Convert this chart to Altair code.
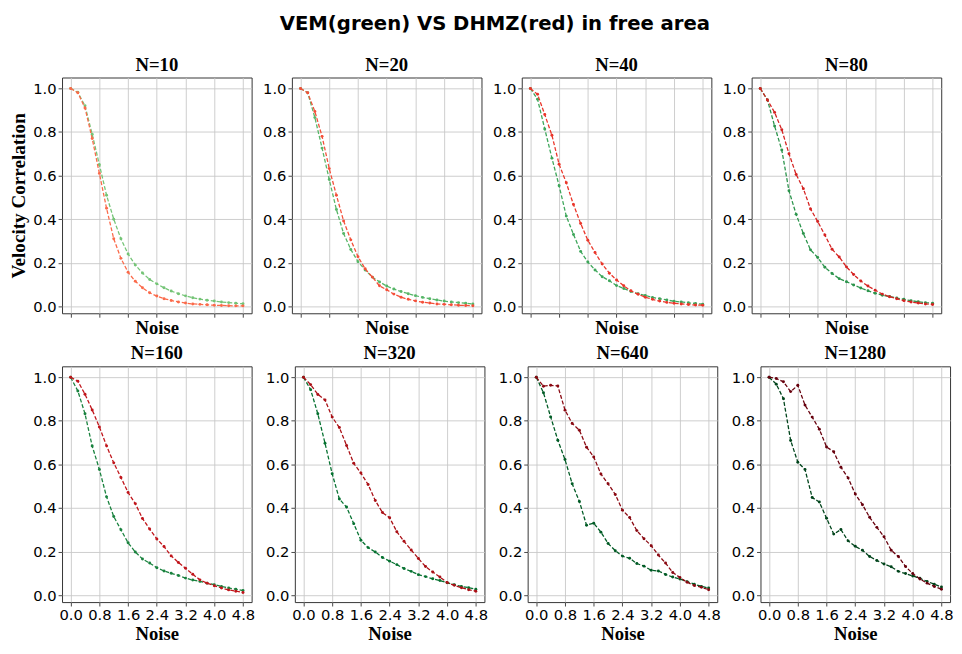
import altair as alt
import pandas as pd

noise = [0.0, 0.2, 0.4, 0.6, 0.8, 1.0, 1.2, 1.4, 1.6, 1.8, 2.0, 2.2, 2.4,
         2.6, 2.8, 3.0, 3.2, 3.4, 3.6, 3.8, 4.0, 4.2, 4.4, 4.6, 4.8]
x_ticks = [0.0, 0.8, 1.6, 2.4, 3.2, 4.0, 4.8]
y_ticks = [0.0, 0.2, 0.4, 0.6, 0.8, 1.0]
n_values = [10, 20, 40, 80, 160, 320, 640, 1280]

vem_10 = [1.0, 0.982, 0.92, 0.79, 0.65, 0.51, 0.40, 0.31, 0.24, 0.19, 0.153, 0.123, 0.103,
          0.085, 0.070, 0.058, 0.048, 0.039, 0.033, 0.028, 0.024, 0.020, 0.017, 0.014, 0.012]
dhmz_10 = [1.0, 0.98, 0.91, 0.77, 0.61, 0.45, 0.31, 0.22, 0.156, 0.115, 0.085, 0.062, 0.047,
           0.035, 0.027, 0.020, 0.015, 0.011, 0.009, 0.007, 0.005, 0.004, 0.003, 0.002, 0.002]

vem_20 = [1.0, 0.98, 0.866, 0.726, 0.582, 0.444, 0.334, 0.261, 0.205, 0.167, 0.134, 0.112, 0.093,
          0.079, 0.068, 0.058, 0.049, 0.041, 0.035, 0.029, 0.024, 0.020, 0.017, 0.014, 0.011]
dhmz_20 = [1.0, 0.98, 0.894, 0.78, 0.632, 0.51, 0.392, 0.305, 0.228, 0.172, 0.134, 0.094, 0.076,
           0.056, 0.042, 0.032, 0.025, 0.019, 0.015, 0.011, 0.009, 0.007, 0.005, 0.004, 0.003]

vem_40 = [1.0, 0.95, 0.814, 0.68, 0.553, 0.414, 0.33, 0.252, 0.203, 0.167, 0.136, 0.117, 0.095,
          0.082, 0.068, 0.058, 0.050, 0.041, 0.035, 0.029, 0.023, 0.020, 0.016, 0.013, 0.010]
dhmz_40 = [1.0, 0.973, 0.88, 0.785, 0.652, 0.567, 0.467, 0.38, 0.303, 0.247, 0.194, 0.152, 0.121,
           0.094, 0.071, 0.055, 0.042, 0.032, 0.024, 0.018, 0.014, 0.011, 0.008, 0.006, 0.005]

vem_80 = [1.0, 0.947, 0.827, 0.717, 0.53, 0.422, 0.334, 0.259, 0.224, 0.179, 0.151, 0.127, 0.113,
          0.098, 0.084, 0.071, 0.060, 0.051, 0.045, 0.038, 0.032, 0.026, 0.021, 0.017, 0.014]
dhmz_80 = [1.0, 0.947, 0.89, 0.81, 0.70, 0.605, 0.54, 0.447, 0.389, 0.327, 0.262, 0.226, 0.181,
           0.146, 0.116, 0.093, 0.074, 0.056, 0.044, 0.035, 0.026, 0.020, 0.015, 0.011, 0.008]

vem_160 = [1.0, 0.937, 0.832, 0.684, 0.577, 0.451, 0.361, 0.30, 0.24, 0.198, 0.166, 0.147, 0.126,
           0.111, 0.10, 0.09, 0.078, 0.069, 0.063, 0.055, 0.048, 0.040, 0.033, 0.027, 0.021]
dhmz_160 = [1.0, 0.982, 0.922, 0.85, 0.772, 0.685, 0.607, 0.54, 0.471, 0.42, 0.352, 0.303, 0.258,
            0.223, 0.18, 0.15, 0.123, 0.096, 0.07, 0.055, 0.043, 0.033, 0.024, 0.018, 0.012]

vem_320 = [1.0, 0.943, 0.832, 0.697, 0.557, 0.441, 0.404, 0.328, 0.252, 0.218, 0.198, 0.173, 0.156,
           0.14, 0.122, 0.109, 0.094, 0.085, 0.075, 0.067, 0.057, 0.048, 0.040, 0.034, 0.027]
dhmz_320 = [1.0, 0.966, 0.921, 0.896, 0.817, 0.769, 0.687, 0.605, 0.56, 0.508, 0.434, 0.379, 0.355,
            0.291, 0.247, 0.207, 0.168, 0.131, 0.106, 0.083, 0.058, 0.045, 0.034, 0.025, 0.018]

vem_640 = [1.0, 0.929, 0.818, 0.711, 0.622, 0.511, 0.43, 0.321, 0.33, 0.289, 0.237, 0.204, 0.179,
           0.169, 0.145, 0.133, 0.114, 0.111, 0.095, 0.083, 0.074, 0.062, 0.050, 0.040, 0.033]
dhmz_640 = [1.0, 0.959, 0.963, 0.96, 0.849, 0.788, 0.757, 0.679, 0.634, 0.556, 0.511, 0.462, 0.39,
            0.356, 0.296, 0.259, 0.227, 0.184, 0.147, 0.104, 0.081, 0.059, 0.044, 0.036, 0.025]

vem_1280 = [1.0, 0.968, 0.901, 0.71, 0.61, 0.577, 0.448, 0.427, 0.353, 0.28, 0.301, 0.249, 0.224,
            0.206, 0.177, 0.159, 0.143, 0.13, 0.109, 0.099, 0.088, 0.077, 0.063, 0.050, 0.037]
dhmz_1280 = [1.0, 0.994, 0.979, 0.934, 0.963, 0.872, 0.817, 0.761, 0.68, 0.658, 0.587, 0.538, 0.464,
             0.415, 0.357, 0.311, 0.268, 0.206, 0.177, 0.131, 0.099, 0.074, 0.055, 0.040, 0.027]

greens = ["#74c476", "#57b668", "#3da65a", "#2c944c", "#19823e", "#057130", "#005b25", "#00441b"]
reds = ["#fb6a4a", "#f44f39", "#ea362a", "#d52221", "#c0151b", "#aa1016", "#8a0912", "#67000d"]

vem_all = [vem_10, vem_20, vem_40, vem_80, vem_160, vem_320, vem_640, vem_1280]
dhmz_all = [dhmz_10, dhmz_20, dhmz_40, dhmz_80, dhmz_160, dhmz_320, dhmz_640, dhmz_1280]

PW, PH = 193, 240
SERIF = "Liberation Serif"


def series_layers(values, col, x, y):
    df = pd.DataFrame({"noise": noise, "value": values})
    base = alt.Chart(df)
    line = base.mark_line(strokeDash=[4, 2], strokeWidth=1.3, color=col).encode(x=x, y=y)
    pts = base.mark_point(filled=True, size=9, opacity=1, color=col).encode(x=x, y=y)
    return [line, pts]


def panel(i):
    n = n_values[i]
    top_row = i < 4
    first = i == 0
    x = alt.X("noise:Q",
              scale=alt.Scale(domain=[-0.24, 5.04], nice=False, zero=False),
              axis=alt.Axis(values=x_ticks, format=".1f", labels=not top_row,
                            title="Noise", titleFont=SERIF, titleFontSize=19,
                            titleFontWeight="bold", titlePadding=1 if top_row else 2,
                            labelPadding=2))
    y_axis_kwargs = dict(values=y_ticks, format=".1f")
    if first:
        y_axis_kwargs.update(title="Velocity Correlation", titleFont=SERIF, titleFontSize=19.5,
                             titleFontWeight="bold", titlePadding=4)
    else:
        y_axis_kwargs.update(title=None)
    y = alt.Y("value:Q", scale=alt.Scale(domain=[-0.032, 1.05], nice=False),
              axis=alt.Axis(**y_axis_kwargs))
    layers = series_layers(vem_all[i], greens[i], x, y) + series_layers(dhmz_all[i], reds[i], x, y)
    return alt.layer(*layers).properties(
        width=PW, height=PH,
        title=alt.TitleParams(f"N={n}", font=SERIF, fontSize=19, fontWeight="bold",
                              offset=3, color="black"))


row1 = alt.hconcat(*[panel(i) for i in range(4)], spacing=9)
row2 = alt.hconcat(*[panel(i) for i in range(4, 8)], spacing=9)

chart = alt.vconcat(row1, row2, spacing=6).properties(
    title=alt.TitleParams("VEM(green) VS DHMZ(red) in free area", font="DejaVu Sans",
                          fontSize=20, fontWeight="bold", anchor="middle", offset=22,
                          dx=14, color="black"),
    padding={"left": 0, "top": 0, "right": 0, "bottom": 0},
).configure_view(
    stroke="#333333", strokeWidth=1
).configure_axis(
    domain=False,
    grid=True, gridColor="#c8c8c8", gridWidth=0.9,
    ticks=True, tickColor="#333333", tickSize=4, tickWidth=0.9,
    labelFont="DejaVu Sans", labelFontSize=15, labelColor="#000000", labelPadding=2,
    titleColor="black",
)

chart.save("out.html", embed_options={"renderer": "svg", "actions": False})
